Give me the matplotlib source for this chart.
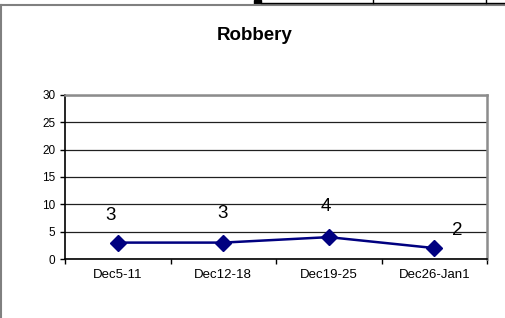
import matplotlib
matplotlib.use('Agg')
import matplotlib.pyplot as plt
from matplotlib.lines import Line2D
from matplotlib.patches import Rectangle

# data
weeks = ['Dec5-11', 'Dec12-18', 'Dec19-25', 'Dec26-Jan1']
robbery = [3, 3, 4, 2]
y_ticks = [0, 5, 10, 15, 20, 25, 30]

# where each value label sits relative to its point (pixels)
label_offsets = [(-7, 27), (-1, 29), (-3, 31), (23, 18)]

plt.rcParams['font.family'] = ['Liberation Sans', 'DejaVu Sans']

fig = plt.figure(figsize=(5.06, 3.18), dpi=100)

# frame around the chart + piece of a table above it (pixel coords)
deco = fig.add_axes([0, 0, 1, 1])
deco.set_xlim(0, 506)
deco.set_ylim(318, 0)
deco.axis('off')
deco.add_line(Line2D([0, 506], [4.5, 4.5], color='#808080', lw=1.5))
deco.add_line(Line2D([1.5, 1.5], [4.5, 318], color='#808080', lw=1.5))
deco.add_line(Line2D([261, 506], [2.5, 2.5], color='black', lw=1))
deco.add_line(Line2D([373, 373], [0, 2.5], color='black', lw=1))
deco.add_line(Line2D([486, 486], [0, 2.5], color='black', lw=1))
deco.add_patch(Rectangle((254, 0), 7, 3.5, color='black'))

ax = fig.add_axes([0.1285, 0.1855, 0.834, 0.516])
x = range(len(weeks))
ax.plot(x, robbery, color='#000080', lw=1.8, marker='D', markersize=8,
        markerfacecolor='#000080', markeredgecolor='#000080')

for i, v in enumerate(robbery):
    ax.annotate(str(v), (i, v), xytext=label_offsets[i], textcoords='offset pixels',
                ha='center', va='center', fontsize=13.5)

ax.set_xlim(-0.5, len(weeks) - 0.5)
ax.set_ylim(0, 30)
ax.set_yticks(y_ticks)
ax.set_yticklabels([str(t) for t in y_ticks], fontsize=8.5)
ax.set_xticks(list(x))
ax.set_xticklabels(weeks, fontsize=9.5)
ax.set_xticks([i - 0.5 for i in range(len(weeks) + 1)], minor=True)
ax.tick_params(axis='x', which='major', length=0, pad=7.5)
ax.tick_params(axis='x', which='minor', length=3.5, width=1, direction='out')
ax.tick_params(axis='y', length=3.5, width=1, direction='out', pad=3.5)

ax.yaxis.grid(True, color='#202020', lw=0.9)
ax.set_axisbelow(True)
ax.spines['left'].set_color('black')
ax.spines['bottom'].set_color('black')
ax.spines['left'].set_linewidth(1.2)
ax.spines['bottom'].set_linewidth(1.2)
ax.spines['top'].set_color('#8c8c8c')
ax.spines['right'].set_color('#8c8c8c')
ax.spines['top'].set_linewidth(1.8)
ax.spines['right'].set_linewidth(1.8)

fig.text(255 / 506, 1 - 35 / 318, 'Robbery', ha='center', va='center',
         fontsize=13.5, fontweight='bold')

fig.savefig('out.png', dpi=100)
